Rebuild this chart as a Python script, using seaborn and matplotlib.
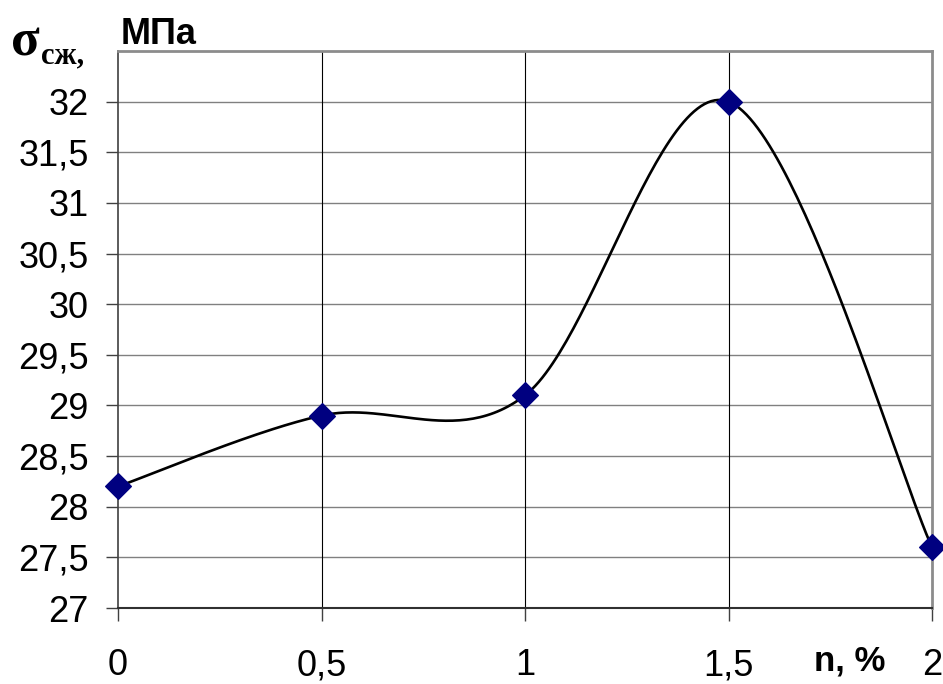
import numpy as np
import pandas as pd
import seaborn as sns
import matplotlib
matplotlib.use("Agg")
import matplotlib.pyplot as plt

# Content of additive, % and compressive strength, MPa
n_percent = [0.0, 0.5, 1.0, 1.5, 2.0]
strength = [28.2, 28.9, 29.1, 32.0, 27.6]
x_ticks = [0, 0.5, 1, 1.5, 2]
x_tick_labels = ["0", "0,5", "1", "1,5", "2"]
y_ticks = [27, 27.5, 28, 28.5, 29, 29.5, 30, 30.5, 31, 31.5, 32]
y_tick_labels = ["27", "27,5", "28", "28,5", "29", "29,5", "30", "30,5", "31", "31,5", "32"]


def smooth_curve(xs, ys, steps=60):
    """Cubic Bezier smoothing through the points (Catmull-Rom style control points)."""
    p = np.column_stack([xs, ys]).astype(float)
    ext = np.vstack([p[0], p, p[-1]])
    out = []
    t = np.linspace(0, 1, steps)[:, None]
    for i in range(len(p) - 1):
        p0, p1, p2, p3 = ext[i], ext[i + 1], ext[i + 2], ext[i + 3]
        c1 = p1 + (p2 - p0) / 6.0
        c2 = p2 - (p3 - p1) / 6.0
        seg = ((1 - t) ** 3) * p1 + 3 * ((1 - t) ** 2) * t * c1 + 3 * (1 - t) * t ** 2 * c2 + t ** 3 * p2
        out.append(seg if i == 0 else seg[1:])
    s = np.vstack(out)
    return s[:, 0], s[:, 1]


sns.set_theme(style="white")
plt.rcParams["font.family"] = ["Liberation Sans", "DejaVu Sans"]

fig = plt.figure(figsize=(9.43, 6.84), dpi=100)
ax = fig.add_axes([118 / 943, 1 - 608 / 684, (932 - 118) / 943, (608 - 51) / 684])

sx, sy = smooth_curve(n_percent, strength)
curve = pd.DataFrame({"n": sx, "s": sy})
points = pd.DataFrame({"n": n_percent, "s": strength})

sns.lineplot(data=curve, x="n", y="s", sort=False, color="black", linewidth=1.9, ax=ax, zorder=3)
sns.scatterplot(data=points, x="n", y="s", marker="D", s=170, color="#000080",
                edgecolor="#000080", ax=ax, zorder=4, clip_on=False)

ax.set_xlim(0, 2)
ax.set_ylim(27, 32.5)
ax.set_xticks(x_ticks)
ax.set_xticklabels(x_tick_labels)
ax.set_yticks(y_ticks)
ax.set_yticklabels(y_tick_labels)
ax.set_xlabel("")
ax.set_ylabel("")

# grid: horizontal gray, vertical black
for yv in y_ticks:
    ax.axhline(yv, color="#808080", linewidth=1.0, zorder=1)
for xv in x_ticks[1:-1]:
    ax.axvline(xv, color="black", linewidth=0.8, zorder=1)

for side in ["top", "right"]:
    ax.spines[side].set_color("#8c8c8c")
    ax.spines[side].set_linewidth(2.0)
ax.spines["left"].set_color("#404040")
ax.spines["left"].set_linewidth(1.2)
ax.spines["bottom"].set_color("#303030")
ax.spines["bottom"].set_linewidth(1.5)

ax.tick_params(axis="both", which="major", direction="out", length=9, width=1.0,
               color="#404040", labelsize=26, labelcolor="black")
ax.tick_params(axis="x", pad=20)
ax.tick_params(axis="y", pad=12)
ax.xaxis.set_ticks_position("bottom")
ax.yaxis.set_ticks_position("left")

# axis titles
fig.text(121 / 943, 1 - 44 / 684, "МПа", fontsize=26, fontweight="bold", va="baseline", ha="left",
         color="black")
fig.text(11 / 943, 1 - 56 / 684, "σ", fontsize=38, fontweight="bold", va="baseline", ha="left",
         family=["Liberation Serif", "DejaVu Serif"], color="black")
fig.text(41 / 943, 1 - 63 / 684, "сж,", fontsize=22, fontweight="bold", va="baseline", ha="left",
         family=["Liberation Serif", "DejaVu Serif"], color="black")
fig.text(850 / 943, 1 - 670 / 684, "n, %", fontsize=25, fontweight="bold", va="baseline", ha="center",
         color="black")

fig.savefig("out.png", dpi=100, facecolor="white")
